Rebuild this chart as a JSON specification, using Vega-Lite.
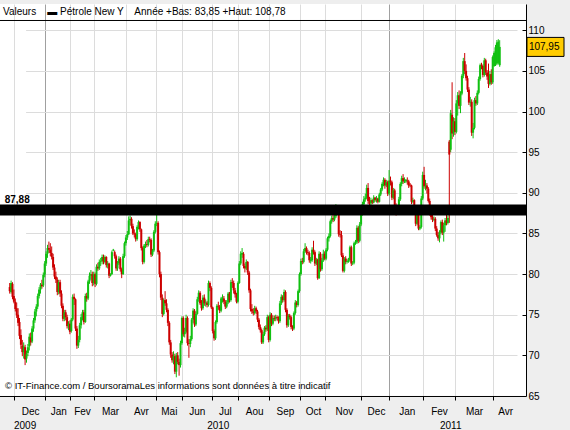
{
"$schema": "https://vega.github.io/schema/vega-lite/v6.json",
"width": 526, "height": 392,
"autosize": {"type": "none"},
"padding": {"left": 0, "top": 4, "right": 44, "bottom": 34},
"background": "#eeeeee",
"config": {
 "font": "Liberation Sans",
 "view": {"fill": "white", "stroke": null},
 "locale": {"number": {"decimal": ",", "thousands": " ", "grouping": [3], "currency": ["", " €"]}},
 "axis": {"labelFont": "Liberation Sans", "labelFontSize": 10, "labelColor": "black", "tickColor": "black", "domainColor": "black", "labelOverlap": false, "labelAngle": 0}
},
"datasets": {
"px": [
{"d":"2009-11-24","o":78.4,"h":78.9,"l":77.6,"c":77.9},
{"d":"2009-11-25","o":77.8,"h":79.2,"l":77.6,"c":78.9},
{"d":"2009-11-27","o":78.8,"h":79.0,"l":76.9,"c":77.2},
{"d":"2009-11-30","o":77.3,"h":78.1,"l":76.4,"c":76.6},
{"d":"2009-12-01","o":76.6,"h":77.0,"l":75.4,"c":75.7},
{"d":"2009-12-02","o":75.8,"h":76.5,"l":74.6,"c":74.9},
{"d":"2009-12-03","o":75.0,"h":75.8,"l":73.6,"c":74.0},
{"d":"2009-12-04","o":74.1,"h":74.6,"l":72.0,"c":72.4},
{"d":"2009-12-07","o":72.5,"h":73.2,"l":70.8,"c":71.3},
{"d":"2009-12-08","o":71.2,"h":71.9,"l":69.9,"c":70.4},
{"d":"2009-12-09","o":70.4,"h":71.6,"l":69.6,"c":71.1},
{"d":"2009-12-10","o":71.0,"h":71.3,"l":68.8,"c":69.5},
{"d":"2009-12-11","o":69.6,"h":70.6,"l":69.1,"c":70.2},
{"d":"2009-12-14","o":70.3,"h":71.4,"l":69.9,"c":71.0},
{"d":"2009-12-15","o":71.1,"h":72.7,"l":70.6,"c":72.3},
{"d":"2009-12-16","o":72.2,"h":72.8,"l":71.2,"c":71.6},
{"d":"2009-12-17","o":71.7,"h":73.6,"l":71.5,"c":73.3},
{"d":"2009-12-18","o":73.3,"h":74.6,"l":72.9,"c":74.3},
{"d":"2009-12-21","o":74.3,"h":75.7,"l":74.0,"c":75.4},
{"d":"2009-12-22","o":75.4,"h":76.3,"l":74.8,"c":76.0},
{"d":"2009-12-23","o":76.0,"h":77.6,"l":75.7,"c":77.3},
{"d":"2009-12-24","o":77.3,"h":78.4,"l":77.0,"c":78.1},
{"d":"2009-12-28","o":78.1,"h":78.9,"l":77.6,"c":78.7},
{"d":"2009-12-29","o":78.7,"h":79.3,"l":78.2,"c":78.5},
{"d":"2009-12-30","o":78.6,"h":80.2,"l":78.4,"c":79.9},
{"d":"2009-12-31","o":79.9,"h":81.6,"l":79.6,"c":81.3},
{"d":"2010-01-04","o":81.3,"h":82.8,"l":81.0,"c":82.5},
{"d":"2010-01-05","o":82.5,"h":83.6,"l":82.0,"c":83.2},
{"d":"2010-01-06","o":83.2,"h":84.0,"l":82.6,"c":83.0},
{"d":"2010-01-07","o":83.0,"h":83.8,"l":82.2,"c":82.6},
{"d":"2010-01-08","o":82.6,"h":83.4,"l":81.8,"c":82.1},
{"d":"2010-01-11","o":82.1,"h":82.5,"l":80.5,"c":80.8},
{"d":"2010-01-12","o":80.8,"h":81.2,"l":79.4,"c":79.7},
{"d":"2010-01-13","o":79.7,"h":80.3,"l":78.9,"c":79.3},
{"d":"2010-01-14","o":79.3,"h":79.6,"l":77.4,"c":77.8},
{"d":"2010-01-19","o":77.8,"h":79.3,"l":77.5,"c":79.0},
{"d":"2010-01-20","o":79.0,"h":79.3,"l":77.2,"c":77.6},
{"d":"2010-01-21","o":77.6,"h":78.0,"l":75.8,"c":76.1},
{"d":"2010-01-22","o":76.1,"h":76.4,"l":74.2,"c":74.5},
{"d":"2010-01-25","o":74.5,"h":75.6,"l":74.2,"c":75.3},
{"d":"2010-01-26","o":75.3,"h":75.6,"l":74.3,"c":74.7},
{"d":"2010-01-27","o":74.7,"h":75.0,"l":73.3,"c":73.6},
{"d":"2010-01-28","o":73.6,"h":74.2,"l":73.1,"c":73.9},
{"d":"2010-01-29","o":73.9,"h":74.3,"l":72.6,"c":72.9},
{"d":"2010-02-01","o":73.0,"h":74.6,"l":72.8,"c":74.4},
{"d":"2010-02-02","o":74.4,"h":77.5,"l":74.2,"c":77.2},
{"d":"2010-02-03","o":77.2,"h":77.6,"l":76.2,"c":76.9},
{"d":"2010-02-04","o":76.9,"h":77.0,"l":73.0,"c":73.3},
{"d":"2010-02-05","o":73.3,"h":73.6,"l":70.8,"c":71.2},
{"d":"2010-02-08","o":71.2,"h":72.4,"l":70.9,"c":71.9},
{"d":"2010-02-09","o":71.9,"h":74.0,"l":71.6,"c":73.7},
{"d":"2010-02-10","o":73.7,"h":75.1,"l":73.3,"c":74.7},
{"d":"2010-02-11","o":74.7,"h":75.6,"l":74.3,"c":75.3},
{"d":"2010-02-16","o":75.3,"h":75.6,"l":73.8,"c":74.1},
{"d":"2010-02-17","o":74.1,"h":77.6,"l":74.0,"c":77.3},
{"d":"2010-02-18","o":77.3,"h":77.7,"l":76.6,"c":77.0},
{"d":"2010-02-19","o":77.0,"h":79.3,"l":76.8,"c":79.1},
{"d":"2010-02-22","o":79.1,"h":80.2,"l":78.8,"c":79.8},
{"d":"2010-02-23","o":79.8,"h":80.5,"l":79.3,"c":80.0},
{"d":"2010-02-24","o":80.0,"h":80.3,"l":78.5,"c":78.9},
{"d":"2010-02-25","o":78.9,"h":80.3,"l":78.6,"c":80.0},
{"d":"2010-03-01","o":80.0,"h":80.2,"l":78.4,"c":78.8},
{"d":"2010-03-02","o":78.8,"h":81.2,"l":78.6,"c":80.9},
{"d":"2010-03-03","o":80.9,"h":81.4,"l":80.4,"c":80.7},
{"d":"2010-03-04","o":80.7,"h":81.8,"l":80.5,"c":81.5},
{"d":"2010-03-05","o":81.5,"h":82.0,"l":81.0,"c":81.6},
{"d":"2010-03-08","o":81.6,"h":82.4,"l":81.2,"c":82.1},
{"d":"2010-03-09","o":82.1,"h":82.4,"l":81.2,"c":81.5},
{"d":"2010-03-10","o":81.5,"h":82.3,"l":81.3,"c":82.1},
{"d":"2010-03-11","o":82.1,"h":82.2,"l":80.8,"c":81.1},
{"d":"2010-03-12","o":81.1,"h":81.6,"l":80.7,"c":81.3},
{"d":"2010-03-15","o":81.3,"h":81.4,"l":79.5,"c":79.8},
{"d":"2010-03-16","o":79.8,"h":80.1,"l":79.7,"c":80.0},
{"d":"2010-03-17","o":80.0,"h":82.9,"l":79.9,"c":82.7},
{"d":"2010-03-18","o":82.9,"h":83.1,"l":82.8,"c":83.0},
{"d":"2010-03-19","o":82.7,"h":82.9,"l":81.9,"c":82.2},
{"d":"2010-03-22","o":82.2,"h":82.4,"l":80.4,"c":80.7},
{"d":"2010-03-23","o":80.7,"h":81.6,"l":80.4,"c":81.3},
{"d":"2010-03-24","o":81.3,"h":82.2,"l":81.1,"c":81.9},
{"d":"2010-03-25","o":81.9,"h":82.1,"l":80.3,"c":80.6},
{"d":"2010-03-26","o":80.6,"h":80.8,"l":79.5,"c":80.0},
{"d":"2010-03-29","o":80.0,"h":82.5,"l":79.9,"c":82.2},
{"d":"2010-03-30","o":82.2,"h":84.0,"l":82.0,"c":83.8},
{"d":"2010-03-31","o":83.8,"h":84.8,"l":83.5,"c":84.5},
{"d":"2010-04-01","o":84.5,"h":85.3,"l":84.2,"c":84.9},
{"d":"2010-04-05","o":84.9,"h":87.1,"l":84.8,"c":86.6},
{"d":"2010-04-06","o":86.6,"h":87.2,"l":86.0,"c":86.8},
{"d":"2010-04-07","o":86.8,"h":87.0,"l":85.6,"c":85.9},
{"d":"2010-04-08","o":85.9,"h":86.2,"l":84.8,"c":85.0},
{"d":"2010-04-09","o":85.0,"h":85.5,"l":84.5,"c":84.9},
{"d":"2010-04-12","o":84.9,"h":85.1,"l":84.0,"c":84.3},
{"d":"2010-04-13","o":84.3,"h":86.0,"l":84.1,"c":85.8},
{"d":"2010-04-14","o":85.8,"h":86.6,"l":85.5,"c":86.4},
{"d":"2010-04-15","o":86.4,"h":86.5,"l":85.2,"c":85.5},
{"d":"2010-04-16","o":85.5,"h":85.6,"l":82.9,"c":83.2},
{"d":"2010-04-19","o":83.2,"h":83.4,"l":81.2,"c":81.5},
{"d":"2010-04-20","o":81.5,"h":83.7,"l":81.3,"c":83.5},
{"d":"2010-04-21","o":83.5,"h":84.0,"l":83.2,"c":83.7},
{"d":"2010-04-22","o":83.7,"h":84.2,"l":83.3,"c":83.6},
{"d":"2010-04-23","o":83.6,"h":84.6,"l":83.4,"c":84.3},
{"d":"2010-04-26","o":84.3,"h":84.6,"l":83.9,"c":84.2},
{"d":"2010-04-27","o":84.2,"h":84.4,"l":82.1,"c":82.4},
{"d":"2010-04-28","o":82.4,"h":83.1,"l":82.2,"c":82.9},
{"d":"2010-04-29","o":82.9,"h":85.4,"l":82.7,"c":85.2},
{"d":"2010-04-30","o":85.2,"h":86.5,"l":85.0,"c":86.2},
{"d":"2010-05-03","o":86.2,"h":87.4,"l":85.9,"c":86.3},
{"d":"2010-05-04","o":86.3,"h":86.5,"l":82.4,"c":82.7},
{"d":"2010-05-05","o":82.7,"h":82.9,"l":79.6,"c":80.0},
{"d":"2010-05-06","o":80.0,"h":80.3,"l":76.8,"c":77.1},
{"d":"2010-05-07","o":77.1,"h":77.5,"l":74.7,"c":75.1},
{"d":"2010-05-10","o":75.1,"h":77.0,"l":74.9,"c":76.8},
{"d":"2010-05-11","o":76.8,"h":77.9,"l":76.1,"c":76.4},
{"d":"2010-05-12","o":76.4,"h":76.9,"l":75.3,"c":75.6},
{"d":"2010-05-13","o":75.6,"h":75.8,"l":73.6,"c":74.0},
{"d":"2010-05-14","o":74.0,"h":74.2,"l":71.3,"c":71.6},
{"d":"2010-05-17","o":71.6,"h":71.9,"l":69.7,"c":70.1},
{"d":"2010-05-18","o":70.1,"h":70.4,"l":69.1,"c":69.4},
{"d":"2010-05-19","o":69.4,"h":70.5,"l":68.9,"c":69.9},
{"d":"2010-05-20","o":69.9,"h":70.2,"l":67.7,"c":68.0},
{"d":"2010-05-21","o":68.0,"h":70.3,"l":67.3,"c":70.0},
{"d":"2010-05-24","o":70.0,"h":70.4,"l":68.9,"c":69.2},
{"d":"2010-05-25","o":69.2,"h":69.6,"l":67.5,"c":68.8},
{"d":"2010-05-26","o":68.8,"h":71.8,"l":68.5,"c":71.5},
{"d":"2010-05-27","o":71.5,"h":74.8,"l":71.3,"c":74.6},
{"d":"2010-06-01","o":74.6,"h":74.8,"l":72.3,"c":72.6},
{"d":"2010-06-02","o":72.6,"h":73.4,"l":72.2,"c":72.9},
{"d":"2010-06-03","o":72.9,"h":75.0,"l":72.7,"c":74.6},
{"d":"2010-06-04","o":74.6,"h":74.8,"l":71.2,"c":71.5},
{"d":"2010-06-07","o":71.5,"h":72.0,"l":69.7,"c":71.4},
{"d":"2010-06-08","o":71.4,"h":72.4,"l":71.0,"c":72.0},
{"d":"2010-06-09","o":72.0,"h":74.6,"l":71.8,"c":74.4},
{"d":"2010-06-10","o":74.4,"h":75.8,"l":74.0,"c":75.5},
{"d":"2010-06-11","o":75.5,"h":75.7,"l":73.5,"c":73.8},
{"d":"2010-06-14","o":73.8,"h":75.4,"l":73.6,"c":75.1},
{"d":"2010-06-15","o":75.1,"h":77.2,"l":75.0,"c":76.9},
{"d":"2010-06-16","o":76.9,"h":78.0,"l":76.6,"c":77.7},
{"d":"2010-06-17","o":77.7,"h":77.9,"l":76.2,"c":76.4},
{"d":"2010-06-18","o":76.4,"h":76.8,"l":75.5,"c":75.8},
{"d":"2010-06-21","o":75.8,"h":77.4,"l":75.6,"c":77.1},
{"d":"2010-06-22","o":77.1,"h":77.5,"l":76.1,"c":76.4},
{"d":"2010-06-23","o":76.4,"h":76.9,"l":76.0,"c":76.5},
{"d":"2010-06-24","o":76.5,"h":76.7,"l":75.9,"c":76.2},
{"d":"2010-06-25","o":76.2,"h":79.2,"l":76.0,"c":78.9},
{"d":"2010-06-28","o":78.9,"h":79.1,"l":77.9,"c":78.3},
{"d":"2010-06-29","o":78.3,"h":78.5,"l":75.7,"c":75.9},
{"d":"2010-07-01","o":75.9,"h":76.0,"l":72.7,"c":73.0},
{"d":"2010-07-06","o":73.0,"h":73.2,"l":71.8,"c":72.1},
{"d":"2010-07-07","o":72.1,"h":74.3,"l":71.9,"c":74.1},
{"d":"2010-07-08","o":74.1,"h":76.3,"l":73.9,"c":76.1},
{"d":"2010-07-09","o":76.1,"h":76.6,"l":75.6,"c":76.0},
{"d":"2010-07-12","o":76.0,"h":76.2,"l":75.2,"c":75.5},
{"d":"2010-07-13","o":75.5,"h":77.2,"l":75.3,"c":77.0},
{"d":"2010-07-14","o":76.9,"h":77.5,"l":76.5,"c":77.1},
{"d":"2010-07-15","o":77.0,"h":77.3,"l":76.3,"c":76.6},
{"d":"2010-07-16","o":76.6,"h":76.8,"l":75.7,"c":76.0},
{"d":"2010-07-19","o":76.0,"h":76.8,"l":75.8,"c":76.5},
{"d":"2010-07-20","o":76.5,"h":77.8,"l":76.3,"c":77.6},
{"d":"2010-07-21","o":77.6,"h":77.8,"l":76.5,"c":76.8},
{"d":"2010-07-22","o":76.8,"h":79.3,"l":76.6,"c":79.0},
{"d":"2010-07-23","o":79.0,"h":79.5,"l":78.3,"c":78.9},
{"d":"2010-07-26","o":78.9,"h":79.2,"l":77.6,"c":78.0},
{"d":"2010-07-27","o":78.0,"h":78.3,"l":77.1,"c":77.5},
{"d":"2010-07-28","o":77.5,"h":77.7,"l":76.4,"c":76.6},
{"d":"2010-07-29","o":76.6,"h":79.1,"l":76.4,"c":78.9},
{"d":"2010-08-02","o":78.9,"h":81.6,"l":78.8,"c":81.3},
{"d":"2010-08-03","o":81.3,"h":82.8,"l":81.1,"c":82.5},
{"d":"2010-08-04","o":82.4,"h":83.2,"l":82.0,"c":82.6},
{"d":"2010-08-05","o":82.5,"h":82.7,"l":80.7,"c":81.0},
{"d":"2010-08-06","o":81.0,"h":81.3,"l":80.2,"c":80.7},
{"d":"2010-08-09","o":80.7,"h":81.8,"l":80.5,"c":81.5},
{"d":"2010-08-10","o":81.5,"h":81.6,"l":79.9,"c":80.2},
{"d":"2010-08-11","o":80.2,"h":80.4,"l":77.7,"c":78.0},
{"d":"2010-08-12","o":78.0,"h":78.2,"l":75.4,"c":75.7},
{"d":"2010-08-13","o":75.7,"h":76.3,"l":75.1,"c":75.4},
{"d":"2010-08-16","o":75.4,"h":75.8,"l":74.9,"c":75.2},
{"d":"2010-08-17","o":75.2,"h":76.1,"l":75.0,"c":75.8},
{"d":"2010-08-18","o":75.8,"h":76.0,"l":75.1,"c":75.4},
{"d":"2010-08-19","o":75.4,"h":75.6,"l":74.1,"c":74.4},
{"d":"2010-08-20","o":74.4,"h":74.6,"l":73.2,"c":73.5},
{"d":"2010-08-23","o":73.5,"h":73.8,"l":72.8,"c":73.1},
{"d":"2010-08-24","o":73.1,"h":73.3,"l":71.4,"c":71.6},
{"d":"2010-08-25","o":71.6,"h":72.9,"l":71.4,"c":72.6},
{"d":"2010-08-26","o":72.6,"h":73.6,"l":72.4,"c":73.4},
{"d":"2010-08-27","o":73.4,"h":73.7,"l":72.9,"c":73.2},
{"d":"2010-08-30","o":73.2,"h":75.0,"l":73.0,"c":74.7},
{"d":"2010-08-31","o":74.7,"h":74.9,"l":71.6,"c":71.9},
{"d":"2010-09-01","o":71.9,"h":75.3,"l":71.7,"c":75.0},
{"d":"2010-09-02","o":75.0,"h":75.2,"l":73.6,"c":73.9},
{"d":"2010-09-03","o":73.9,"h":74.9,"l":73.7,"c":74.6},
{"d":"2010-09-06","o":74.6,"h":74.9,"l":74.2,"c":74.5},
{"d":"2010-09-07","o":74.5,"h":75.0,"l":74.2,"c":74.7},
{"d":"2010-09-08","o":74.7,"h":74.9,"l":74.3,"c":74.6},
{"d":"2010-09-09","o":74.6,"h":74.8,"l":73.9,"c":74.2},
{"d":"2010-09-10","o":74.2,"h":76.7,"l":74.0,"c":76.4},
{"d":"2010-09-13","o":76.4,"h":77.5,"l":76.2,"c":77.2},
{"d":"2010-09-14","o":77.2,"h":77.4,"l":76.5,"c":76.8},
{"d":"2010-09-15","o":76.8,"h":78.1,"l":76.6,"c":77.8},
{"d":"2010-09-16","o":77.8,"h":78.0,"l":75.3,"c":75.6},
{"d":"2010-09-17","o":75.6,"h":75.8,"l":73.4,"c":73.7},
{"d":"2010-09-20","o":73.7,"h":75.1,"l":73.5,"c":74.9},
{"d":"2010-09-21","o":74.9,"h":75.1,"l":74.4,"c":74.7},
{"d":"2010-09-22","o":74.7,"h":74.9,"l":73.2,"c":73.5},
{"d":"2010-09-23","o":73.5,"h":73.7,"l":73.0,"c":73.3},
{"d":"2010-09-24","o":73.3,"h":75.4,"l":73.1,"c":75.2},
{"d":"2010-09-27","o":75.2,"h":76.8,"l":75.0,"c":76.5},
{"d":"2010-09-28","o":76.5,"h":76.7,"l":75.9,"c":76.2},
{"d":"2010-09-29","o":76.2,"h":78.1,"l":76.0,"c":77.9},
{"d":"2010-09-30","o":77.9,"h":80.2,"l":77.7,"c":80.0},
{"d":"2010-10-01","o":80.0,"h":81.9,"l":79.8,"c":81.6},
{"d":"2010-10-04","o":81.6,"h":82.0,"l":81.2,"c":81.5},
{"d":"2010-10-05","o":81.5,"h":83.1,"l":81.3,"c":82.8},
{"d":"2010-10-06","o":82.8,"h":83.8,"l":82.6,"c":83.2},
{"d":"2010-10-07","o":83.2,"h":83.4,"l":82.4,"c":82.7},
{"d":"2010-10-08","o":82.7,"h":83.0,"l":82.3,"c":82.6},
{"d":"2010-10-11","o":82.6,"h":82.8,"l":81.4,"c":81.7},
{"d":"2010-10-12","o":81.6,"h":82.1,"l":81.3,"c":81.8},
{"d":"2010-10-13","o":81.7,"h":83.3,"l":81.5,"c":83.0},
{"d":"2010-10-14","o":83.0,"h":84.1,"l":82.4,"c":82.7},
{"d":"2010-10-15","o":82.7,"h":82.9,"l":81.0,"c":81.3},
{"d":"2010-10-18","o":81.3,"h":82.0,"l":81.1,"c":81.8},
{"d":"2010-10-19","o":81.8,"h":81.9,"l":79.3,"c":79.5},
{"d":"2010-10-20","o":79.5,"h":82.8,"l":79.4,"c":82.5},
{"d":"2010-10-21","o":82.5,"h":82.7,"l":80.3,"c":80.6},
{"d":"2010-10-25","o":80.6,"h":82.0,"l":80.4,"c":81.7},
{"d":"2010-10-26","o":81.7,"h":83.0,"l":81.5,"c":82.5},
{"d":"2010-10-27","o":82.5,"h":82.8,"l":81.7,"c":81.9},
{"d":"2010-11-01","o":81.9,"h":83.2,"l":81.7,"c":83.0},
{"d":"2010-11-02","o":83.0,"h":84.6,"l":82.8,"c":84.4},
{"d":"2010-11-03","o":84.4,"h":85.0,"l":84.0,"c":84.7},
{"d":"2010-11-04","o":84.7,"h":86.7,"l":84.5,"c":86.5},
{"d":"2010-11-05","o":86.5,"h":87.2,"l":86.2,"c":86.9},
{"d":"2010-11-06","o":86.9,"h":87.5,"l":86.4,"c":86.7},
{"d":"2010-11-08","o":86.7,"h":87.5,"l":86.5,"c":87.1},
{"d":"2010-11-09","o":87.1,"h":88.6,"l":86.9,"c":87.8},
{"d":"2010-11-10","o":87.7,"h":88.2,"l":87.4,"c":87.9},
{"d":"2010-11-11","o":87.8,"h":88.0,"l":84.6,"c":84.9},
{"d":"2010-11-12","o":84.9,"h":85.4,"l":84.5,"c":84.8},
{"d":"2010-11-13","o":84.8,"h":85.3,"l":82.1,"c":82.3},
{"d":"2010-11-15","o":82.3,"h":82.6,"l":80.2,"c":80.4},
{"d":"2010-11-16","o":80.4,"h":82.1,"l":80.2,"c":81.9},
{"d":"2010-11-17","o":81.9,"h":82.2,"l":81.2,"c":81.5},
{"d":"2010-11-18","o":81.5,"h":81.9,"l":81.3,"c":81.6},
{"d":"2010-11-19","o":81.6,"h":82.0,"l":81.4,"c":81.7},
{"d":"2010-11-20","o":81.7,"h":83.5,"l":81.5,"c":83.3},
{"d":"2010-11-22","o":83.3,"h":83.5,"l":81.0,"c":81.3},
{"d":"2010-11-23","o":81.3,"h":81.6,"l":81.1,"c":81.4},
{"d":"2010-11-24","o":81.4,"h":84.0,"l":81.2,"c":83.8},
{"d":"2010-11-25","o":83.8,"h":84.2,"l":83.6,"c":83.9},
{"d":"2010-11-26","o":83.9,"h":86.0,"l":83.7,"c":85.7},
{"d":"2010-11-27","o":85.7,"h":85.9,"l":83.8,"c":84.1},
{"d":"2010-11-29","o":84.1,"h":86.4,"l":83.9,"c":86.1},
{"d":"2010-11-30","o":86.1,"h":87.6,"l":85.9,"c":87.4},
{"d":"2010-12-01","o":87.4,"h":88.9,"l":87.2,"c":88.6},
{"d":"2010-12-02","o":88.6,"h":89.6,"l":88.4,"c":89.2},
{"d":"2010-12-03","o":89.2,"h":89.9,"l":88.9,"c":89.4},
{"d":"2010-12-06","o":89.4,"h":91.0,"l":89.2,"c":90.6},
{"d":"2010-12-07","o":90.6,"h":91.2,"l":88.6,"c":89.0},
{"d":"2010-12-08","o":89.0,"h":89.5,"l":88.3,"c":88.7},
{"d":"2010-12-09","o":88.7,"h":89.4,"l":88.5,"c":89.1},
{"d":"2010-12-10","o":89.1,"h":89.2,"l":88.6,"c":88.8},
{"d":"2010-12-13","o":88.8,"h":89.7,"l":88.7,"c":89.4},
{"d":"2010-12-14","o":89.4,"h":89.5,"l":88.9,"c":89.1},
{"d":"2010-12-15","o":89.1,"h":89.6,"l":88.8,"c":89.3},
{"d":"2010-12-16","o":89.3,"h":89.4,"l":88.7,"c":88.9},
{"d":"2010-12-17","o":88.9,"h":90.0,"l":88.8,"c":89.8},
{"d":"2010-12-20","o":89.8,"h":90.6,"l":89.6,"c":90.4},
{"d":"2010-12-21","o":90.4,"h":91.3,"l":90.2,"c":91.1},
{"d":"2010-12-22","o":91.1,"h":91.9,"l":90.8,"c":91.6},
{"d":"2010-12-23","o":91.6,"h":91.8,"l":90.5,"c":90.9},
{"d":"2010-12-27","o":90.9,"h":91.6,"l":90.7,"c":91.3},
{"d":"2010-12-28","o":91.3,"h":91.5,"l":89.6,"c":89.9},
{"d":"2010-12-29","o":89.9,"h":92.8,"l":89.7,"c":91.5},
{"d":"2011-01-03","o":91.5,"h":92.0,"l":90.9,"c":91.3},
{"d":"2011-01-04","o":91.3,"h":91.5,"l":89.1,"c":89.4},
{"d":"2011-01-05","o":89.4,"h":90.6,"l":89.2,"c":90.3},
{"d":"2011-01-06","o":90.3,"h":90.5,"l":88.1,"c":88.4},
{"d":"2011-01-07","o":88.4,"h":88.7,"l":87.2,"c":88.0},
{"d":"2011-01-08","o":88.0,"h":88.3,"l":87.5,"c":88.1},
{"d":"2011-01-10","o":88.1,"h":89.5,"l":87.9,"c":89.2},
{"d":"2011-01-11","o":89.2,"h":91.3,"l":89.0,"c":91.1},
{"d":"2011-01-12","o":91.1,"h":92.1,"l":90.8,"c":91.8},
{"d":"2011-01-13","o":91.8,"h":92.3,"l":91.1,"c":91.4},
{"d":"2011-01-14","o":91.4,"h":91.9,"l":91.2,"c":91.5},
{"d":"2011-01-15","o":91.4,"h":91.7,"l":91.2,"c":91.6},
{"d":"2011-01-17","o":91.5,"h":91.9,"l":91.0,"c":91.4},
{"d":"2011-01-18","o":91.4,"h":91.6,"l":90.6,"c":90.9},
{"d":"2011-01-19","o":91.0,"h":91.2,"l":90.7,"c":90.9},
{"d":"2011-01-20","o":90.9,"h":91.0,"l":88.6,"c":88.9},
{"d":"2011-01-21","o":88.9,"h":89.4,"l":88.7,"c":89.1},
{"d":"2011-01-22","o":89.1,"h":89.2,"l":87.6,"c":87.9},
{"d":"2011-01-24","o":87.9,"h":88.1,"l":85.9,"c":86.2},
{"d":"2011-01-25","o":86.2,"h":87.6,"l":86.0,"c":87.3},
{"d":"2011-01-26","o":87.3,"h":87.4,"l":85.4,"c":85.6},
{"d":"2011-01-27","o":85.6,"h":86.0,"l":85.4,"c":85.8},
{"d":"2011-01-28","o":85.8,"h":89.6,"l":85.6,"c":89.3},
{"d":"2011-01-31","o":89.3,"h":92.6,"l":89.1,"c":92.2},
{"d":"2011-02-01","o":92.2,"h":93.2,"l":90.5,"c":90.8},
{"d":"2011-02-02","o":90.8,"h":91.6,"l":90.3,"c":90.9},
{"d":"2011-02-03","o":90.9,"h":91.2,"l":89.9,"c":90.5},
{"d":"2011-02-04","o":90.5,"h":90.7,"l":88.8,"c":89.0},
{"d":"2011-02-05","o":89.0,"h":89.3,"l":87.2,"c":87.5},
{"d":"2011-02-07","o":87.5,"h":88.0,"l":86.7,"c":87.0},
{"d":"2011-02-08","o":87.0,"h":87.3,"l":86.4,"c":86.7},
{"d":"2011-02-09","o":86.7,"h":87.1,"l":86.5,"c":86.8},
{"d":"2011-02-10","o":86.8,"h":87.0,"l":85.3,"c":85.6},
{"d":"2011-02-11","o":85.6,"h":85.9,"l":84.6,"c":84.8},
{"d":"2011-02-12","o":84.8,"h":85.2,"l":84.1,"c":84.4},
{"d":"2011-02-14","o":84.4,"h":85.4,"l":83.9,"c":85.1},
{"d":"2011-02-15","o":85.1,"h":86.6,"l":84.9,"c":86.4},
{"d":"2011-02-16","o":86.4,"h":86.7,"l":84.8,"c":85.1},
{"d":"2011-02-17","o":85.1,"h":86.3,"l":84.0,"c":86.0},
{"d":"2011-02-18","o":86.0,"h":86.9,"l":85.2,"c":86.6},
{"d":"2011-02-19","o":86.6,"h":87.4,"l":86.0,"c":86.3},
{"d":"2011-02-21","o":86.3,"h":87.2,"l":86.1,"c":86.9},
{"d":"2011-02-22","o":96.3,"h":96.5,"l":86.3,"c":94.7},
{"d":"2011-02-23","o":95.3,"h":100.2,"l":95.0,"c":99.8},
{"d":"2011-02-24","o":99.6,"h":103.6,"l":96.6,"c":97.3},
{"d":"2011-02-25","o":97.3,"h":99.3,"l":96.9,"c":98.8},
{"d":"2011-02-28","o":98.8,"h":99.2,"l":97.1,"c":97.5},
{"d":"2011-03-01","o":97.5,"h":101.4,"l":97.3,"c":101.0},
{"d":"2011-03-02","o":101.0,"h":102.4,"l":99.5,"c":102.0},
{"d":"2011-03-03","o":102.0,"h":102.6,"l":100.3,"c":100.7},
{"d":"2011-03-04","o":100.7,"h":102.5,"l":99.8,"c":102.2},
{"d":"2011-03-05","o":102.2,"h":104.6,"l":102.0,"c":104.4},
{"d":"2011-03-07","o":104.4,"h":106.6,"l":104.1,"c":106.2},
{"d":"2011-03-08","o":106.2,"h":107.2,"l":104.6,"c":105.0},
{"d":"2011-03-09","o":105.0,"h":105.8,"l":103.8,"c":104.1},
{"d":"2011-03-10","o":104.1,"h":104.4,"l":102.4,"c":102.7},
{"d":"2011-03-11","o":102.7,"h":103.0,"l":100.8,"c":101.1},
{"d":"2011-03-12","o":101.1,"h":101.8,"l":100.6,"c":101.2},
{"d":"2011-03-14","o":101.2,"h":101.5,"l":97.0,"c":97.4},
{"d":"2011-03-15","o":97.4,"h":98.6,"l":96.7,"c":98.0},
{"d":"2011-03-16","o":98.0,"h":101.7,"l":97.8,"c":101.4},
{"d":"2011-03-17","o":101.4,"h":101.9,"l":100.7,"c":101.0},
{"d":"2011-03-18","o":101.0,"h":102.6,"l":100.8,"c":102.3},
{"d":"2011-03-19","o":102.3,"h":104.3,"l":102.1,"c":104.0},
{"d":"2011-03-21","o":104.0,"h":105.9,"l":103.8,"c":105.7},
{"d":"2011-03-22","o":105.7,"h":106.0,"l":105.2,"c":105.6},
{"d":"2011-03-23","o":105.6,"h":105.8,"l":104.2,"c":104.5},
{"d":"2011-03-24","o":104.5,"h":106.6,"l":104.3,"c":106.3},
{"d":"2011-03-25","o":106.3,"h":106.5,"l":104.5,"c":104.8},
{"d":"2011-03-26","o":104.8,"h":105.1,"l":103.9,"c":104.3},
{"d":"2011-03-28","o":104.3,"h":105.9,"l":102.9,"c":103.4},
{"d":"2011-03-29","o":103.4,"h":105.0,"l":103.2,"c":104.6},
{"d":"2011-03-30","o":104.6,"h":105.2,"l":103.3,"c":103.6},
{"d":"2011-03-31","o":103.6,"h":106.9,"l":103.4,"c":106.7},
{"d":"2011-04-01","o":105.6,"h":107.4,"l":105.5,"c":107.2},
{"d":"2011-04-04","o":105.8,"h":108.2,"l":105.6,"c":107.9},
{"d":"2011-04-05","o":105.9,"h":108.8,"l":105.7,"c":108.5},
{"d":"2011-04-06","o":106.0,"h":108.9,"l":105.8,"c":108.6},
{"d":"2011-04-07","o":105.7,"h":108.78,"l":105.5,"c":107.95}
],
"band": [{"lo": 87.2, "hi": 88.55, "lab": "87,88"}],
"legend": [{"t": "Valeurs\u00A0\u00A0\u00A0 \u25AC Pétrole New Y\u00A0\u00A0\u00A0 Année +Bas: 83,85 +Haut: 108,78"}],
"footer": [{"t": "© IT-Finance.com / BoursoramaLes informations sont données à titre indicatif"}]
},
"data": {"name": "px"},
"layer": [
{
 "mark": {"type": "rule", "strokeWidth": 1},
 "encoding": {
  "x": {"field": "d", "type": "ordinal",
   "scale": {"paddingInner": 0, "paddingOuter": 0, "range": [9, 500.4]},
   "axis": {"orient": "bottom", "title": null,
    "values": ["2009-12-01","2010-01-04","2010-02-01","2010-03-01","2010-04-01","2010-05-03","2010-06-01","2010-07-01","2010-08-02","2010-09-01","2010-10-01","2010-11-01","2010-12-01","2011-01-03","2011-02-01","2011-03-01","2011-04-01"],
    "bandPosition": 0, "labels": false, "ticks": true, "tickSize": 4, "domain": false,
    "grid": true, "gridWidth": 1,
    "gridColor": {"condition": {"test": "datum.value == '2010-01-04' || datum.value == '2011-01-03'", "value": "#a0a0a0"}, "value": "#dcdcdc"}}},
  "y": {"field": "l", "type": "quantitative",
   "scale": {"domain": [65, 113.23], "nice": false, "zero": false},
   "axis": {"orient": "right", "title": null,
    "values": [65,67.5,70,72.5,75,77.5,80,82.5,85,87.5,90,92.5,95,97.5,100,102.5,105,107.5,110],
    "labelExpr": "datum.value % 5 == 0 ? datum.label : ''",
    "tickSize": -4, "labelPadding": 6, "domain": true,
    "grid": true, "gridColor": "#dcdcdc",
    "gridOpacity": {"condition": {"test": "datum.value % 5 != 0", "value": 0}, "value": 1}}},
  "y2": {"field": "h"},
  "color": {"condition": {"test": "datum.c >= datum.o", "value": "#11c011"}, "value": "#cc0000"}
 }
},
{
 "mark": {"type": "bar", "width": 2},
 "encoding": {
  "x": {"field": "d", "type": "ordinal",
   "axis": {"orient": "bottom", "title": null,
    "values": ["2009-12-16","2010-01-19","2010-02-11","2010-03-16","2010-04-16","2010-05-14","2010-06-15","2010-07-16","2010-08-17","2010-09-16","2010-10-14","2010-11-16","2010-12-15","2011-01-17","2011-02-14","2011-03-16","2011-04-07"],
    "labelExpr": "['Jan','Fev','Mar','Avr','Mai','Jun','Jul','Aou','Sep','Oct','Nov','Dec'][toNumber(slice(datum.value,5,7))-1]",
    "ticks": false, "domain": false, "grid": false, "labelPadding": 10, "labelBaseline": "top",
    "labelOffset": {"condition": {"test": "datum.value == '2011-04-07'", "value": 6}, "value": 0}}},
  "y": {"field": "o", "type": "quantitative"},
  "y2": {"field": "c"},
  "color": {"condition": {"test": "datum.c >= datum.o", "value": "#11c011"}, "value": "#cc0000"}
 }
},
{
 "transform": [{"filter": "datum.d == '2011-04-07'"}],
 "mark": {"type": "point", "shape": "M2.87,-1L6.77,-1L6.77,1L2.87,1Z", "filled": true, "color": "#ffcc00", "stroke": "black", "strokeWidth": 1, "size": 361, "opacity": 1},
 "encoding": {
  "x": {"field": "d", "type": "ordinal",
   "axis": {"orient": "bottom", "title": null,
    "values": ["2009-12-10","2010-07-09","2011-02-23"],
    "labelExpr": "slice(datum.value,0,4)",
    "ticks": false, "domain": false, "grid": false, "labelPadding": 24, "labelBaseline": "top"}},
  "y": {"field": "c", "type": "quantitative"}
 }
},
{
 "transform": [{"filter": "datum.d == '2011-04-07'"}],
 "mark": {"type": "text", "align": "center", "baseline": "middle", "dx": 44.5, "fontSize": 10, "color": "black"},
 "encoding": {
  "x": {"field": "d", "type": "ordinal", "axis": null},
  "y": {"field": "c", "type": "quantitative"},
  "text": {"field": "c", "type": "quantitative", "format": ".2f"}
 }
},
{
 "data": {"name": "band"},
 "mark": {"type": "rect", "color": "black"},
 "encoding": {
  "y": {"field": "lo", "type": "quantitative"},
  "y2": {"field": "hi"}
 }
},
{
 "data": {"name": "band"},
 "mark": {"type": "text", "align": "left", "baseline": "alphabetic", "dx": -5, "dy": -1.5, "fontSize": 10, "fontWeight": "bold", "color": "black"},
 "encoding": {
  "x": {"datum": "2009-11-24", "type": "ordinal", "axis": null},
  "y": {"field": "hi", "type": "quantitative"},
  "text": {"field": "lab"}
 }
},
{
 "data": {"name": "legend"},
 "mark": {"type": "rule", "color": "black", "strokeWidth": 1},
 "encoding": {
  "y": {"datum": 111.2, "type": "quantitative"}
 }
},
{
 "data": {"name": "legend"},
 "mark": {"type": "rule", "color": "black", "strokeWidth": 1},
 "encoding": {
  "y": {"datum": 64.94, "type": "quantitative"}
 }
},
{
 "data": {"name": "legend"},
 "mark": {"type": "text", "align": "left", "baseline": "alphabetic", "dx": -6.7, "fontSize": 10, "color": "black"},
 "encoding": {
  "x": {"datum": "2009-11-24", "type": "ordinal", "axis": null},
  "y": {"datum": 111.87, "type": "quantitative"},
  "text": {"field": "t"}
 }
},
{
 "data": {"name": "footer"},
 "mark": {"type": "text", "align": "left", "baseline": "alphabetic", "dx": -4.7, "fontSize": 9.5, "color": "black"},
 "encoding": {
  "x": {"datum": "2009-11-24", "type": "ordinal", "axis": null},
  "y": {"datum": 65.8, "type": "quantitative"},
  "text": {"field": "t"}
 }
}
],
"resolve": {"axis": {"x": "independent"}}
}
